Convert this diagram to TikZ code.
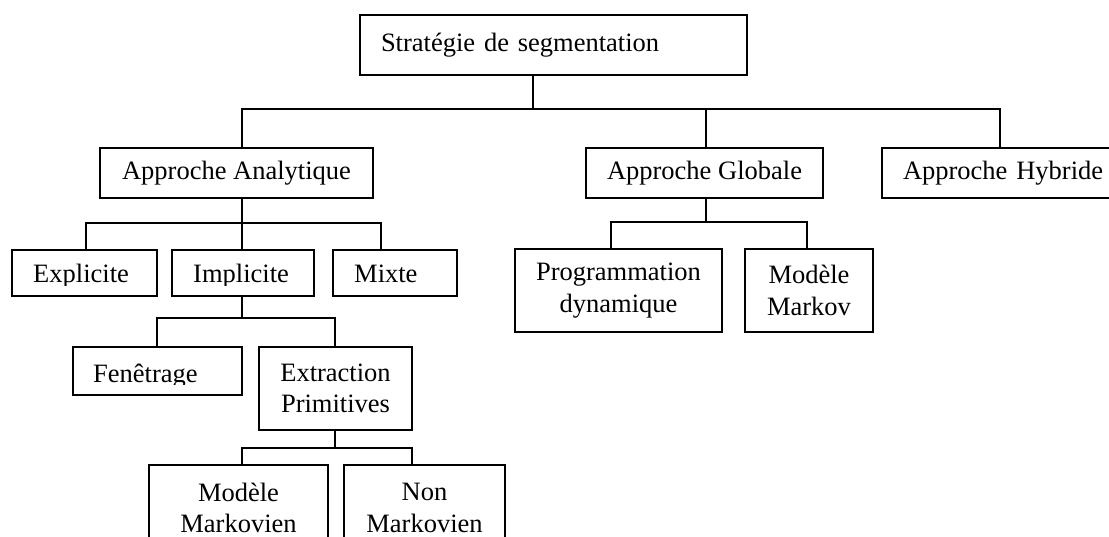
\documentclass[tikz,border=0pt]{standalone}
\usepackage{fontspec}
\setmainfont{Liberation Serif}
\newcommand\boxfont{\fontsize{26.5}{31.5}\selectfont}
\tikzset{
  box/.style={draw, line width=1.4pt, rectangle, inner sep=0pt, font=\boxfont},
  sz/.style 2 args={minimum width=#1pt, minimum height=#2pt},
  lbl/.style={inner sep=0pt, font=\boxfont},
  conn/.style={line width=1.4pt}
}
\begin{document}
\begin{tikzpicture}[x=1pt, y=-1pt]
\clip (0,0) rectangle (1109,537);
\fill[white] (0,0) rectangle (1109,537);

% top level
\node[box, sz={387}{60}, align=left, text width=345pt] (root) at (553.5,45) {Stratégie de segmentation};

% first level
\node[box, sz={273}{50}] (anal) at (236.5,173) {Approche Analytique};
\node[box, sz={237}{50}] (glob) at (704.5,173) {Approche Globale};
\node[box, sz={232}{50}, align=left, text width=190pt] (hyb) at (998,173) {\mbox{Approche Hybride}};

% analytic branch
\node[box, sz={145}{46}] (expl) at (84.5,273) {};
\node[box, sz={142}{46}] (impl) at (243,273) {};
\node[box, sz={124}{46}] (mixte) at (395,273) {};
\begin{scope}
  \clip (12,250) rectangle (457,285.5);
  \node[lbl, anchor=base west] (texpl) at (33,283) {Explicite};
  \node[lbl, anchor=base west] (timpl) at (193,283) {Implicite};
  \node[lbl, anchor=base west] (tmixte) at (354,283) {Mixte};
\end{scope}

\node[box, sz={169}{48}] (fen) at (157.5,371) {};
\begin{scope}
  \clip (73,347) rectangle (242,384.5);
  \node[lbl, anchor=base west] (tfen) at (93,382) {Fenêtrage};
\end{scope}
\node[box, sz={153}{83}, align=center] (extr) at (335.5,388.5) {Extraction\\Primitives};

\node[box, sz={179}{86}, align=center] (mm) at (238.5,508) {Modèle\\Markovien};
\node[box, sz={161}{86}, align=center] (nm) at (424.5,508) {Non\\Markovien};

% global branch
\node[box, sz={207}{83}, align=center] (prog) at (618.5,290.5) {Programmation\\dynamique};
\node[box, sz={128}{83}, align=center] (mkv) at (809,290.5) {Modèle\\Markov};

% junction points of the connector buses
\coordinate (j0) at (533,109);
\coordinate (busA) at (242,109);
\coordinate (busG) at (706,109);
\coordinate (busH) at (1000,109);
\coordinate (a1) at (86,223);
\coordinate (a2) at (242,223);
\coordinate (a3) at (381,223);
\coordinate (i1) at (157,318);
\coordinate (i2) at (242,318);
\coordinate (i3) at (335,318);
\coordinate (e1) at (242,448);
\coordinate (e2) at (335,448);
\coordinate (e3) at (412,448);
\coordinate (g1) at (611,222);
\coordinate (g2) at (706,222);
\coordinate (g3) at (807,222);

% connectors
\draw[conn] (j0 |- root.south) -- (j0);
\draw[conn] (busA |- anal.north) -- (busA) -- (busH) -- (busH |- hyb.north);
\draw[conn] (busG) -- (busG |- glob.north);

\draw[conn] (a2 |- anal.south) -- (a2) -- (a2 |- impl.north);
\draw[conn] (a1 |- expl.north) -- (a1) -- (a3) -- (a3 |- mixte.north);

\draw[conn] (i2 |- impl.south) -- (i2);
\draw[conn] (i1 |- fen.north) -- (i1) -- (i3) -- (i3 |- extr.north);

\draw[conn] (e2 |- extr.south) -- (e2);
\draw[conn] (e1 |- mm.north) -- (e1) -- (e3) -- (e3 |- nm.north);

\draw[conn] (g2 |- glob.south) -- (g2);
\draw[conn] (g1 |- prog.north) -- (g1) -- (g3) -- (g3 |- mkv.north);
\end{tikzpicture}
\end{document}
